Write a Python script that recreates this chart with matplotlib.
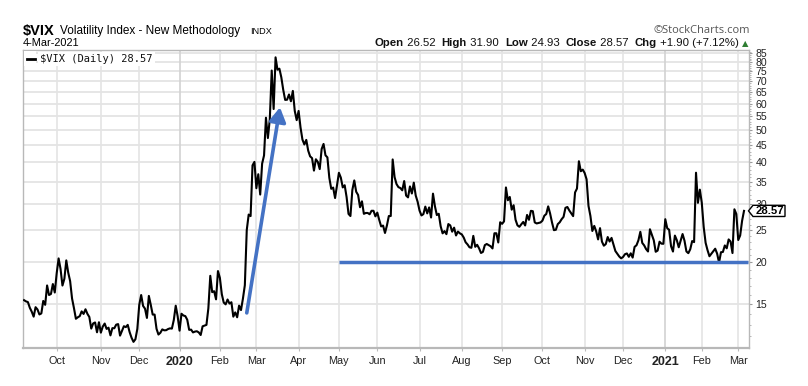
import matplotlib
matplotlib.use("Agg")
import matplotlib.pyplot as plt
import matplotlib.ticker as mticker
from matplotlib.patches import Polygon
from matplotlib.transforms import IdentityTransform
import numpy as np
import pandas as pd

W, H, DPI = 808, 386, 100

# ---------------- data ----------------
HOLIDAYS = ["2019-11-28", "2019-12-25", "2020-01-01", "2020-01-20", "2020-02-17",
            "2020-04-10", "2020-05-25", "2020-07-03", "2020-09-07", "2020-11-26",
            "2020-12-25", "2021-01-01", "2021-01-18", "2021-02-15"]
START, END = "2019-09-06", "2021-03-04"

vix_2019_09 = [15.40, 15.27, 15.20, 14.61, 14.22, 13.74, 14.67, 14.44, 13.95, 14.05,
               15.32, 14.91, 17.05, 15.96, 16.07, 17.22, 16.24]
vix_2019_10 = [18.56, 20.56, 19.12, 17.04, 17.86, 20.28, 18.64, 17.57, 15.58, 14.57,
               13.54, 13.68, 13.79, 14.25, 14.00, 14.46, 14.01, 13.71, 12.65, 13.11,
               13.20, 12.33, 13.22]
vix_2019_11 = [12.30, 12.83, 13.10, 12.62, 12.73, 12.07, 12.69, 12.68, 13.00, 13.05,
               12.05, 12.46, 12.86, 12.78, 12.98, 12.34, 11.87, 11.54, 11.75, 12.62]
vix_2019_12 = [14.91, 15.96, 14.80, 14.52, 13.62, 15.86, 14.91, 13.94, 13.94, 12.63,
               12.14, 12.29, 12.58, 12.50, 12.51, 12.61, 12.67, 12.65, 13.43, 14.82,
               13.78]
vix_2020_01 = [12.47, 14.02, 13.85, 13.79, 13.45, 12.54, 12.56, 12.32, 12.39, 12.42,
               12.32, 12.10, 12.85, 12.91, 12.98, 14.56, 18.23, 16.28, 16.39, 15.49,
               18.84]
vix_2020_02 = [17.97, 16.05, 15.15, 14.96, 15.47, 15.04, 15.18, 13.74, 14.15, 13.68,
               14.83, 14.38, 15.56, 17.08, 25.03, 27.85, 27.56, 39.16, 40.11]
vix_2020_03 = [33.42, 36.82, 31.99, 39.62, 41.94, 54.46, 47.30, 53.90, 75.47, 57.83,
               82.69, 75.91, 76.45, 72.00, 66.04, 61.59, 61.67, 63.95, 61.00, 65.54,
               57.08, 53.54]
vix_2020_04 = [57.06, 50.91, 46.80, 45.24, 46.70, 43.35, 41.67, 41.17, 37.76, 40.84,
               40.11, 38.15, 43.83, 45.41, 41.98, 41.38, 35.93, 33.29, 33.57, 31.23,
               34.15]
vix_2020_05 = [37.19, 35.97, 33.61, 34.12, 31.44, 27.98, 27.57, 33.04, 35.28, 32.61,
               31.89, 29.30, 30.53, 27.99, 28.16, 28.16, 27.91, 28.59, 28.59, 27.51]
vix_2020_06 = [28.23, 26.84, 25.66, 25.81, 24.52, 25.81, 27.57, 27.57, 40.79, 36.09,
               34.40, 33.67, 33.47, 32.94, 35.12, 31.77, 31.37, 33.84, 32.22, 34.73,
               31.78, 30.43]
vix_2020_07 = [28.62, 27.68, 27.94, 29.43, 28.08, 29.26, 27.29, 32.19, 29.52, 27.76,
               28.00, 25.68, 24.46, 24.84, 24.32, 26.08, 25.84, 24.74, 25.44, 24.10,
               24.76, 24.46]
vix_2020_08 = [24.28, 23.76, 22.99, 22.65, 22.21, 22.13, 24.03, 22.28, 22.59, 22.05,
               21.35, 21.51, 22.54, 22.72, 22.54, 22.37, 22.03, 24.47, 24.47, 22.96,
               26.41]
vix_2020_09 = [26.12, 26.57, 33.60, 30.75, 31.46, 28.81, 29.71, 26.87, 25.85, 25.59,
               26.04, 26.46, 25.83, 27.78, 26.86, 28.58, 28.51, 26.38, 26.19, 26.27,
               26.37]
vix_2020_10 = [26.70, 27.63, 27.96, 29.48, 28.06, 26.36, 25.00, 25.07, 26.07, 26.40,
               26.97, 27.41, 29.18, 29.35, 28.65, 28.11, 27.55, 32.46, 33.35, 40.28,
               37.59, 38.02]
vix_2020_11 = [37.13, 35.55, 29.57, 27.58, 24.86, 25.75, 24.80, 23.45, 25.35, 23.10,
               22.45, 22.71, 23.84, 23.11, 23.70, 22.66, 21.64, 21.25, 20.84, 20.57]
vix_2020_12 = [20.77, 21.17, 21.28, 20.79, 21.30, 20.68, 22.27, 22.52, 23.31, 24.72,
               22.89, 22.50, 21.93, 21.57, 25.16, 24.23, 23.31, 21.53, 21.70, 23.08,
               22.77, 22.75]
vix_2021_01 = [26.97, 25.34, 25.07, 22.37, 21.56, 24.08, 23.33, 22.21, 23.25, 24.34,
               23.24, 21.58, 21.32, 21.91, 23.19, 23.02, 37.21, 30.21, 33.09]
vix_2021_02 = [30.24, 25.56, 22.91, 21.77, 20.87, 21.24, 21.63, 21.99, 21.25, 19.97,
               21.46, 21.50, 22.49, 22.05, 23.45, 23.11, 21.34, 28.89, 27.95]
vix_2021_03 = [23.35, 24.10, 26.67, 28.57]

MONTHLY = [("2019-09", vix_2019_09), ("2019-10", vix_2019_10), ("2019-11", vix_2019_11),
           ("2019-12", vix_2019_12), ("2020-01", vix_2020_01), ("2020-02", vix_2020_02),
           ("2020-03", vix_2020_03), ("2020-04", vix_2020_04), ("2020-05", vix_2020_05),
           ("2020-06", vix_2020_06), ("2020-07", vix_2020_07), ("2020-08", vix_2020_08),
           ("2020-09", vix_2020_09), ("2020-10", vix_2020_10), ("2020-11", vix_2020_11),
           ("2020-12", vix_2020_12), ("2021-01", vix_2021_01), ("2021-02", vix_2021_02),
           ("2021-03", vix_2021_03)]

OPEN, HIGH, LOW, CHG, CHG_PCT = 26.52, 31.90, 24.93, 1.90, 7.12
LAST_DATE = "4-Mar-2021"
SUPPORT_LEVEL = 20.0
SUPPORT_FROM = "2020-05-01"
ARROW_FROM = ("2020-02-24", 14.1)
ARROW_TO = ("2020-03-18", 58.5)

# ---------------- build series ----------------
cal = pd.bdate_range(START, END, freq="C", holidays=HOLIDAYS)
periods = cal.to_period("M").astype(str)
closes = []
for key, vals in MONTHLY:
    n = int((periods == key).sum())
    assert n == len(vals), (key, n, len(vals))
    closes.extend(vals)
closes = np.array(closes)
xs = np.arange(len(closes))
pos = {d.strftime("%Y-%m-%d"): i for i, d in enumerate(cal)}

# month ticks
tick_idx, tick_lab, tick_year = [], [], []
for key, _ in MONTHLY[1:]:
    i = int(np.argmax(periods == key))
    tick_idx.append(i)
    d = cal[i]
    if d.month == 1:
        tick_lab.append(str(d.year)); tick_year.append(True)
    else:
        tick_lab.append(d.strftime("%b")); tick_year.append(False)

# ---------------- figure ----------------
plt.rcParams["font.family"] = ["Liberation Sans", "DejaVu Sans"]
fig = plt.figure(figsize=(W / DPI, H / DPI), dpi=DPI)
fig.patch.set_facecolor("white")

def fx(px):
    return px / W

def fy(py):
    return 1 - py / H

ax = fig.add_axes([fx(23), 38 / H, 726 / W, 298 / H])
ax.set_yscale("log")
ax.set_ylim(11.06, 87.0)
ax.set_xlim(-0.55, len(closes) + 1.6)

# grid
for v in range(15, 90, 5):
    ax.axhline(v, color="#e4e4e4", lw=1.3, zorder=0)
for i, yr in zip(tick_idx, tick_year):
    ax.axvline(i, color="#d2d2d2" if yr else "#e4e4e4", lw=1.2, zorder=0)

ax.plot(xs, closes, color="black", lw=1.5, zorder=3, solid_joinstyle="round")

# annotations
blue = "#4472C4"
ax.hlines(SUPPORT_LEVEL, pos[SUPPORT_FROM], len(closes) + 1.0, color=blue, lw=2.5, zorder=4)
ax.annotate("", xy=(pos[ARROW_TO[0]] + 0.3, ARROW_TO[1]), xytext=(pos[ARROW_FROM[0]], ARROW_FROM[1]),
            arrowprops=dict(arrowstyle="-|>,head_length=0.85,head_width=0.5", lw=2.6,
                            color=blue, mutation_scale=10, shrinkA=0, shrinkB=0), zorder=4)

# axes styling
for s in ax.spines.values():
    s.set_color("#b8b8b8"); s.set_linewidth(1.0)
ax.spines["bottom"].set_linewidth(1.6)
ax.yaxis.tick_right()
ax.set_yticks(list(range(15, 90, 5)))
ax.yaxis.set_major_formatter(mticker.FormatStrFormatter("%d"))
minor = [v for v in range(12, 87) if v % 5 != 0]
ax.yaxis.set_minor_locator(mticker.FixedLocator(minor))
ax.yaxis.set_minor_formatter(mticker.NullFormatter())
ax.tick_params(axis="y", which="major", length=2.5, width=0.8, color="#999999", pad=2,
               labelsize=7.6, labelcolor="#222222")
ax.tick_params(axis="y", which="minor", length=1.6, width=0.6, color="#aaaaaa")
ax.set_xticks(tick_idx)
ax.set_xticklabels(tick_lab)
ax.tick_params(axis="x", length=2, width=0.8, color="#bbbbbb", pad=4, labelsize=7.8,
               labelcolor="#222222")
for lab, yr in zip(ax.get_xticklabels(), tick_year):
    if yr:
        lab.set_fontweight("bold"); lab.set_fontsize(9)

# legend inside
fig.text(fx(40), fy(59), r"\$VIX (Daily) %.2f" % closes[-1], family="DejaVu Sans Mono",
         fontsize=7.5, va="center", ha="left", color="#111111", zorder=10,
         bbox=dict(facecolor="white", edgecolor="none", pad=1.5))
fig.add_artist(plt.Rectangle((fx(24), fy(66)), fx(12), (66 - 51) / H, facecolor="white",
                             edgecolor="none", zorder=9))
fig.add_artist(plt.Line2D([fx(27), fx(35)], [fy(58.5), fy(58.5)], color="black", lw=2.0, zorder=11))

# header
fig.text(fx(23), fy(34.5), r"\$VIX", fontsize=10.5, fontweight="bold", va="baseline")
fig.text(fx(60), fy(34), "Volatility Index - New Methodology", fontsize=8.5, va="baseline")
fig.text(fx(250), fy(34), "INDX", fontsize=6.6, va="baseline")
fig.text(fx(23), fy(46.5), LAST_DATE, fontsize=7.9, va="baseline")
fig.text(fx(750), fy(33), "\u00a9StockCharts.com", family="Open Sans", fontsize=8.0,
         color="#555555", ha="right", va="baseline")

renderer = fig.canvas.get_renderer()
pieces = [("Open", True), (" %.2f  " % OPEN, False), ("High", True), (" %.2f  " % HIGH, False),
          ("Low", True), (" %.2f  " % LOW, False), ("Close", True), (" %.2f  " % closes[-1], False),
          ("Chg", True), (" %+.2f (%+.2f%%) " % (CHG, CHG_PCT), False)]
texts = []
x = 0.0
for s, b in pieces:
    t = fig.text(0, fy(46.5), s, fontsize=8.2, fontweight="bold" if b else "normal",
                 va="baseline", ha="left", color="#111111")
    w = t.get_window_extent(renderer).width
    texts.append((t, x))
    x += w
tri = fig.text(0, fy(46.5), "\u25b2", family="DejaVu Sans", fontsize=6, color="#2e7d32",
               va="baseline", ha="left")
wtri = tri.get_window_extent(renderer).width
total = x + wtri
start = 748.5 - total
for t, off in texts:
    t.set_x(fx(start + off))
tri.set_x(fx(start + x))

# last value tag
yc = ax.transData.transform((0, closes[-1]))[1]
tip, left, right, hh = 748.5, 753.0, 785.0, 5.6
poly = Polygon([(tip, yc), (left, yc + hh), (right, yc + hh), (right, yc - hh), (left, yc - hh)],
               closed=True, facecolor="white", edgecolor="black", lw=1.0,
               transform=IdentityTransform(), zorder=20)
fig.add_artist(poly)
fig.text(fx((left + right) / 2 + 0.5), yc / H, "%.2f" % closes[-1], fontsize=8.2, fontweight="bold",
         ha="center", va="center", zorder=21)

fig.savefig("out.png", dpi=DPI, facecolor="white")
